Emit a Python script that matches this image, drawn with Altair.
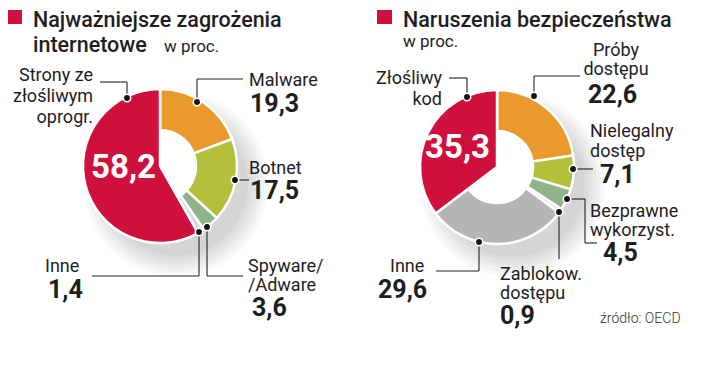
import math
import altair as alt
import pandas as pd

# ---------------- data ----------------
left_categories = ["Malware", "Botnet", "Spyware/Adware", "Inne", "Strony ze złośliwym oprogr."]
left_values = [19.3, 17.5, 3.6, 1.4, 58.2]
right_categories = ["Próby dostępu", "Nielegalny dostęp", "Bezprawne wykorzyst.",
                    "Zablokow. dostępu", "Inne", "Złośliwy kod"]
right_values = [22.6, 7.1, 4.5, 0.9, 29.6, 35.3]

left_title = ["Najważniejsze zagrożenia", "internetowe"]
right_title = ["Naruszenia bezpieczeństwa"]
unit = "w proc."
source = "źródło: OECD"

# ---------------- styles / layout ----------------
left_colors = ["#ea9a2c", "#b4bf3c", "#8fb38b", "#dadada", "#d0103c"]
right_colors = ["#ea9a2c", "#b4bf3c", "#8fb38b", "#e4e4e4", "#b5b5b5", "#d0103c"]
RED = "#d0103c"
INK = "#1e1e1e"
FONT = "Roboto"

centers = {"L": (160, 166), "R": (497, 167)}
OUTER, INNER = 77, 36

left_layout = [
    dict(lines=["Malware"], x=249, y=86, dy=19, align="left", num=(250, 112)),
    dict(lines=["Botnet"], x=249, y=174, dy=19, align="left", num=(250, 199)),
    dict(lines=["Spyware/", "/Adware"], x=248, y=272, dy=19, align="left", num=(252, 316)),
    dict(lines=["Inne"], x=45, y=272, dy=19, align="left", num=(48, 298)),
    dict(lines=["Strony ze", "złośliwym", "oprogr."], x=93, y=81, dy=21, align="right", inside=(156, 178)),
]
right_layout = [
    dict(lines=["Próby", "dostępu"], x=616, y=56, dy=19, align="center", num=(588, 103)),
    dict(lines=["Nielegalny", "dostęp"], x=590, y=137, dy=20, align="left", num=(600, 183)),
    dict(lines=["Bezprawne", "wykorzyst."], x=590, y=217, dy=19, align="left", num=(603, 261)),
    dict(lines=["Zablokow.", "dostępu"], x=500, y=280, dy=19, align="left", num=(500, 324)),
    dict(lines=["Inne"], x=390, y=272, dy=19, align="left", num=(378, 298)),
    dict(lines=["Złośliwy", "kod"], x=442, y=84, dy=21, align="right", inside=(490, 158)),
]

left_leaders = [
    [(197, 102), (197, 79), (243, 79)],
    [(235, 180), (249, 180)],
    [(207, 227), (207, 276), (243, 276)],
    [(199, 232), (199, 276), (92, 276)],
    [(127, 98), (127, 82), (100, 82)],
]
right_leaders = [
    [(534, 96), (534, 76), (580, 76)],
    [(573, 169), (593, 169)],
    [(567, 199), (585, 199), (585, 243), (597, 243)],
    [(559, 212), (559, 259)],
    [(479, 242), (479, 271), (436, 271)],
    [(467, 97), (467, 78), (449, 78)],
]

SHADOW_RADII = [92, 88, 84, 80, 76, 72]
SHADOW_OFFSET = (16, 18)


def fmt(v):
    return f"{v:.1f}".replace(".", ",")


# ---------------- tables ----------------
arc_rows = []
for side, cats, vals in (("L", left_categories, left_values), ("R", right_categories, right_values)):
    cx, cy = centers[side]
    for i, (c, v) in enumerate(zip(cats, vals)):
        arc_rows.append(dict(side=side, key=f"{side}:{c}", cat=c, value=v, idx=i,
                             red=(c in ("Strony ze złośliwym oprogr.", "Złośliwy kod")),
                             cx=cx, cy=cy))
arc_df = pd.DataFrame(arc_rows)
color_domain = [f"L:{c}" for c in left_categories] + [f"R:{c}" for c in right_categories]
color_range = left_colors + right_colors

text_rows = []


def add_text(x, y, t, align, style):
    text_rows.append(dict(x=x, y=y, text=t, align=align, style=style))


for layout, vals in ((left_layout, left_values), (right_layout, right_values)):
    for lay, v in zip(layout, vals):
        for k, line in enumerate(lay["lines"]):
            add_text(lay["x"], lay["y"] + k * lay["dy"], line, lay["align"], "label")
        if "num" in lay:
            add_text(lay["num"][0], lay["num"][1], fmt(v), "left", "num")
        else:
            add_text(lay["inside"][0], lay["inside"][1], fmt(v), "right", "inside")

add_text(33, 27, left_title[0], "left", "title")
add_text(33, 52, left_title[1], "left", "title")
add_text(164, 52, unit, "left", "sub")
add_text(403, 27, right_title[0], "left", "title")
add_text(403, 47, unit, "left", "sub")
add_text(600, 323, source, "left", "source")
text_df = pd.DataFrame(text_rows)

seg_rows, dot_rows = [], []
for leaders in (left_leaders, right_leaders):
    for pts in leaders:
        dot_rows.append(dict(x=pts[0][0], y=pts[0][1]))
        for a, b in zip(pts[:-1], pts[1:]):
            seg_rows.append(dict(x=a[0], y=a[1], x2=b[0], y2=b[1]))
seg_df = pd.DataFrame(seg_rows)
dot_df = pd.DataFrame(dot_rows)

shadow_df = pd.DataFrame([dict(cx=cx + SHADOW_OFFSET[0], cy=cy + SHADOW_OFFSET[1])
                          for cx, cy in centers.values()])
center_df = pd.DataFrame([dict(cx=cx, cy=cy) for cx, cy in centers.values()])

square_df = pd.DataFrame([dict(x=7, x2=22, y=10, y2=24), dict(x=377, x2=392, y=10, y2=24)])

# ---------------- scales ----------------
W, H = 704, 352
xs = alt.Scale(domain=[8, 8 + W], range=[0, W])
ys = alt.Scale(domain=[8, 8 + H], range=[0, H])
ts = alt.Scale(domain=[0, 100], range=[0, 2 * math.pi])
cs = alt.Scale(domain=color_domain, range=color_range)

shadow_layers = [
    alt.Chart(shadow_df).mark_arc(theta=0, theta2=2 * math.pi, outerRadius=r,
                                  color="#000", opacity=0.028).encode(
        x=alt.X("cx:Q", scale=xs, axis=None),
        y=alt.Y("cy:Q", scale=ys, axis=None),
    )
    for r in SHADOW_RADII
]
white_disc = alt.Chart(center_df).mark_arc(theta=0, theta2=2 * math.pi, outerRadius=OUTER + 1,
                                           color="white").encode(
    x=alt.X("cx:Q", scale=xs, axis=None),
    y=alt.Y("cy:Q", scale=ys, axis=None),
)

base_arc = alt.Chart(arc_df).transform_stack(
    stack="value", groupby=["side"], as_=["v0", "v1"],
    sort=[alt.SortField("idx", order="ascending")],
)
enc = dict(
    x=alt.X("cx:Q", scale=xs, axis=None),
    y=alt.Y("cy:Q", scale=ys, axis=None),
    theta=alt.Theta("v0:Q", scale=ts),
    theta2=alt.Theta2("v1:Q"),
    color=alt.Color("key:N", scale=cs, legend=None),
)
donut = base_arc.mark_arc(outerRadius=OUTER, innerRadius=INNER, stroke="white", strokeWidth=2.5).encode(**enc)
pie_red = base_arc.transform_filter("datum.red").mark_arc(
    outerRadius=OUTER, innerRadius=0, stroke="white", strokeWidth=2.5).encode(**enc)

rules = alt.Chart(seg_df).mark_rule(color="#222", strokeWidth=1.1).encode(
    x=alt.X("x:Q", scale=xs, axis=None), y=alt.Y("y:Q", scale=ys, axis=None),
    x2="x2:Q", y2="y2:Q",
)
dots = alt.Chart(dot_df).mark_point(filled=True, color="#111", size=55, stroke="white",
                                     strokeWidth=1.6, opacity=1).encode(
    x=alt.X("x:Q", scale=xs, axis=None), y=alt.Y("y:Q", scale=ys, axis=None),
)

squares = alt.Chart(square_df).mark_rect(color=RED).encode(
    x=alt.X("x:Q", scale=xs, axis=None), x2="x2:Q",
    y=alt.Y("y:Q", scale=ys, axis=None), y2="y2:Q",
)

styles = {
    "label": dict(fontSize=18, fontWeight="normal", color=INK),
    "num": dict(fontSize=25, fontWeight="bold", color=INK),
    "title": dict(fontSize=21.5, fontWeight=500, color=INK),
    "sub": dict(fontSize=17, fontWeight="normal", color=INK),
    "inside": dict(fontSize=33, fontWeight="bold", color="white"),
    "source": dict(fontSize=14, fontWeight=300, color="#333"),
}
text_layers = []
for (align, style), _ in text_df.groupby(["align", "style"]):
    st = styles[style]
    text_layers.append(
        alt.Chart(text_df).transform_filter(
            f"datum.align == '{align}' && datum.style == '{style}'"
        ).mark_text(align=align, baseline="alphabetic", font=FONT, **st).encode(
            x=alt.X("x:Q", scale=xs, axis=None),
            y=alt.Y("y:Q", scale=ys, axis=None),
            text="text:N",
        )
    )

chart = alt.layer(*shadow_layers, white_disc, donut, pie_red, rules, dots, squares,
                  *text_layers).properties(
    width=W, height=H, autosize=alt.AutoSizeParams(type="none"), padding=0,
    background="white",
).configure_view(stroke=None)

chart.save("out.html", embed_options={"renderer": "svg", "actions": False})
